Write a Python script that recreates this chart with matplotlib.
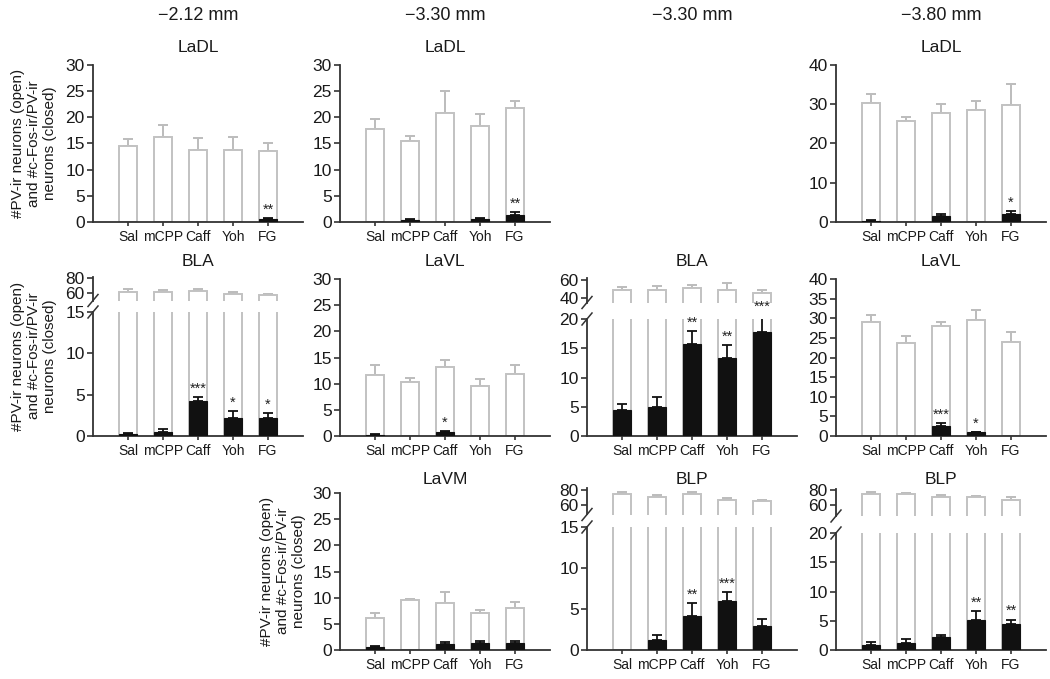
import numpy as np
import matplotlib.pyplot as plt
from matplotlib.lines import Line2D

plt.rcParams['font.family'] = ['Liberation Sans', 'DejaVu Sans']

# Groups on the x axis
groups = ["Sal", "mCPP", "Caff", "Yoh", "FG"]
headers = ["\u22122.12 mm", "\u22123.30 mm", "\u22123.30 mm", "\u22123.80 mm"]

# LaDL, -2.12 mm
ladl_212_open = [14.6, 16.3, 13.8, 13.8, 13.6]
ladl_212_open_err = [1.3, 2.2, 2.2, 2.4, 1.4]
ladl_212_closed = [0, 0, 0, 0, 0.5]
ladl_212_closed_err = [0, 0, 0, 0, 0.2]
ladl_212_stars = ["", "", "", "", "**"]

# LaDL, -3.30 mm
ladl_330_open = [17.7, 15.5, 20.8, 18.3, 21.8]
ladl_330_open_err = [2.0, 1.0, 4.2, 2.3, 1.4]
ladl_330_closed = [0, 0.4, 0, 0.6, 1.3]
ladl_330_closed_err = [0, 0.2, 0, 0.2, 0.6]
ladl_330_stars = ["", "", "", "", "**"]

# LaDL, -3.80 mm
ladl_380_open = [30.3, 25.7, 27.7, 28.5, 29.7]
ladl_380_open_err = [2.2, 1.1, 2.4, 2.4, 5.5]
ladl_380_closed = [0.3, 0, 1.5, 0, 2.0]
ladl_380_closed_err = [0.2, 0, 0.6, 0, 0.7]
ladl_380_stars = ["", "", "", "", "*"]

# BLA, -2.12 mm
bla_212_open = [62, 61, 63, 59, 57]
bla_212_open_err = [3, 2.5, 3, 2.5, 2]
bla_212_closed = [0.3, 0.5, 4.2, 2.2, 2.2]
bla_212_closed_err = [0.1, 0.3, 0.5, 0.8, 0.6]
bla_212_stars = ["", "", "***", "*", "*"]

# LaVL, -3.30 mm
lavl_330_open = [11.6, 10.3, 13.1, 9.6, 11.8]
lavl_330_open_err = [2.0, 0.8, 1.5, 1.2, 1.7]
lavl_330_closed = [0.2, 0, 0.8, 0, 0]
lavl_330_closed_err = [0.1, 0, 0.2, 0, 0]
lavl_330_stars = ["", "", "*", "", ""]

# BLA, -3.30 mm
bla_330_open = [49, 49, 51, 49, 45.5]
bla_330_open_err = [3, 4, 3, 7, 3]
bla_330_closed = [4.4, 4.9, 15.7, 13.3, 17.7]
bla_330_closed_err = [1.0, 1.8, 2.2, 2.3, 3.0]
bla_330_stars = ["", "", "**", "**", "***"]

# LaVL, -3.80 mm
lavl_380_open = [29.1, 23.6, 27.9, 29.5, 24.0]
lavl_380_open_err = [1.8, 1.8, 1.2, 2.6, 2.6]
lavl_380_closed = [0, 0, 2.5, 1.0, 0]
lavl_380_closed_err = [0, 0, 0.7, 0.1, 0]
lavl_380_stars = ["", "", "***", "*", ""]

# LaVM, -3.30 mm
lavm_330_open = [6.1, 9.5, 9.0, 7.0, 8.0]
lavm_330_open_err = [1.0, 0.3, 2.0, 0.7, 1.1]
lavm_330_closed = [0.5, 0, 1.2, 1.3, 1.3]
lavm_330_closed_err = [0.2, 0, 0.4, 0.5, 0.5]
lavm_330_stars = ["", "", "", "", ""]

# BLP, -3.30 mm
blp_330_open = [74, 71, 74, 67, 65]
blp_330_open_err = [3, 2.5, 3, 2, 1.5]
blp_330_closed = [0, 1.2, 4.2, 6.0, 2.9]
blp_330_closed_err = [0, 0.6, 1.5, 1.1, 0.9]
blp_330_stars = ["", "", "**", "***", ""]

# BLP, -3.80 mm
blp_380_open = [75, 74, 71, 70, 67]
blp_380_open_err = [2, 2, 2.5, 2.5, 3]
blp_380_closed = [0.9, 1.2, 2.3, 5.2, 4.5]
blp_380_closed_err = [0.4, 0.7, 0.3, 1.4, 0.7]
blp_380_stars = ["", "", "", "**", "**"]

ylabel = "#PV-ir neurons (open)\nand #c-Fos-ir/PV-ir\nneurons (closed)"

W, H = 1050, 679
fig = plt.figure(figsize=(W / 100, H / 100), dpi=100)

AXC = "#333333"
OPEN_EDGE = "#c2c2c2"
CLOSED = "#111111"
col_left = [93, 340, 587, 836]
col_w = 210


def rect(l, t, r, b):
    return [l / W, 1 - b / H, (r - l) / W, (b - t) / H]


def style(ax, bottom=True):
    ax.spines["top"].set_visible(False)
    ax.spines["right"].set_visible(False)
    ax.spines["left"].set_color(AXC)
    ax.spines["left"].set_linewidth(1.3)
    ax.tick_params(axis="y", labelsize=12.5, length=4, width=1.2, color=AXC,
                   pad=2, labelcolor="#1a1a1a")
    ax.set_xlim(-1, 5)
    if bottom:
        ax.spines["bottom"].set_color(AXC)
        ax.spines["bottom"].set_linewidth(1.3)
        ax.set_xticks(range(5))
        ax.set_xticklabels(groups)
        ax.tick_params(axis="x", labelsize=10, length=3, width=1.2, color=AXC,
                       pad=3, labelcolor="#1a1a1a")
    else:
        ax.spines["bottom"].set_visible(False)
        ax.set_xticks([])
    ax.patch.set_alpha(0)


def bars(ax, open_v, open_e, closed_v, closed_e, stars):
    x = np.arange(5)
    ax.bar(x, open_v, width=0.52, color="white", edgecolor=OPEN_EDGE,
           linewidth=1.4, zorder=2)
    ax.errorbar(x, open_v, yerr=[np.zeros(5), open_e], fmt="none",
                ecolor="#bcbcbc", elinewidth=1.4, capsize=3.5, capthick=1.4,
                zorder=1)
    if closed_v is None:
        return
    cv = np.array(closed_v, dtype=float)
    ce = np.array(closed_e, dtype=float)
    ax.bar(x, cv, width=0.52, color=CLOSED, edgecolor=CLOSED, linewidth=0.8,
           zorder=3)
    m = ce > 0
    ax.errorbar(x[m], cv[m], yerr=[np.zeros(m.sum()), ce[m]], fmt="none",
                ecolor=CLOSED, elinewidth=1.3, capsize=3.5, capthick=1.3,
                zorder=3)
    for xi, s, v, e in zip(x, stars, cv, ce):
        if s:
            ax.annotate(s, (xi, v + e), xytext=(0, 1), textcoords="offset points",
                        ha="center", va="bottom", fontsize=10.5, color="#222222",
                        annotation_clip=False, zorder=5)


def slash(x, y):
    fig.add_artist(Line2D([(x - 5) / W, (x + 5) / W], [1 - (y + 6) / H, 1 - (y - 6) / H],
                          transform=fig.transFigure, color=AXC, lw=1.1))


def simple_panel(col, top, bottom, ymax, step, data):
    l = col_left[col]
    ax = fig.add_axes(rect(l, top, l + col_w, bottom))
    style(ax)
    bars(ax, *data)
    ax.set_ylim(0, ymax)
    ax.set_yticks(np.arange(0, ymax + 0.1, step))
    return ax


def broken_panel(col, up_top, up_bot, up_lim, up_ticks, lo_top, lo_bot, lo_max, lo_step, data):
    l = col_left[col]
    axu = fig.add_axes(rect(l, up_top, l + col_w, up_bot))
    style(axu, bottom=False)
    bars(axu, data[0], data[1], None, None, None)
    axu.set_ylim(*up_lim)
    axu.set_yticks(up_ticks)
    axl = fig.add_axes(rect(l, lo_top, l + col_w, lo_bot))
    style(axl)
    bars(axl, *data)
    axl.set_ylim(0, lo_max)
    axl.set_yticks(np.arange(0, lo_max + 0.1, lo_step))
    slash(l, up_bot)
    slash(l, lo_top)
    return axu, axl


# Row 1: LaDL
simple_panel(0, 65, 222, 30, 5, (ladl_212_open, ladl_212_open_err, ladl_212_closed,
                                 ladl_212_closed_err, ladl_212_stars))
simple_panel(1, 65, 222, 30, 5, (ladl_330_open, ladl_330_open_err, ladl_330_closed,
                                 ladl_330_closed_err, ladl_330_stars))
simple_panel(3, 65, 222, 40, 10, (ladl_380_open, ladl_380_open_err, ladl_380_closed,
                                  ladl_380_closed_err, ladl_380_stars))

# Row 2
broken_panel(0, 276.5, 300.5, (50, 82), [60, 80], 312, 436, 15, 5,
             (bla_212_open, bla_212_open_err, bla_212_closed, bla_212_closed_err, bla_212_stars))
simple_panel(1, 279, 436, 30, 5, (lavl_330_open, lavl_330_open_err, lavl_330_closed,
                                  lavl_330_closed_err, lavl_330_stars))
broken_panel(2, 278, 302.5, (35, 62), [40, 60], 319, 436, 20, 5,
             (bla_330_open, bla_330_open_err, bla_330_closed, bla_330_closed_err, bla_330_stars))
simple_panel(3, 279, 436, 40, 5, (lavl_380_open, lavl_380_open_err, lavl_380_closed,
                                  lavl_380_closed_err, lavl_380_stars))

# Row 3
simple_panel(1, 493, 650, 30, 5, (lavm_330_open, lavm_330_open_err, lavm_330_closed,
                                  lavm_330_closed_err, lavm_330_stars))
broken_panel(2, 488.5, 514.5, (47, 82), [60, 80], 527, 650, 15, 5,
             (blp_330_open, blp_330_open_err, blp_330_closed, blp_330_closed_err, blp_330_stars))
broken_panel(3, 488.5, 516, (45, 82), [60, 80], 533, 650, 20, 5,
             (blp_380_open, blp_380_open_err, blp_380_closed, blp_380_closed_err, blp_380_stars))

# Panel titles
titles = [(0, 47, "LaDL"), (1, 47, "LaDL"), (3, 47, "LaDL"),
          (0, 262, "BLA"), (1, 262, "LaVL"), (2, 262, "BLA"), (3, 262, "LaVL"),
          (1, 479, "LaVM"), (2, 479, "BLP"), (3, 479, "BLP")]
for col, y, t in titles:
    fig.text((col_left[col] + col_w / 2) / W, 1 - y / H, t, ha="center", va="center",
             fontsize=12.5, color="#1a1a1a")

# Column headers
for col, h in enumerate(headers):
    fig.text((col_left[col] + col_w / 2) / W, 1 - 15 / H, h, ha="center", va="center",
             fontsize=13, color="#1a1a1a")

# Y labels
for x, y in [(34, 143.5), (34, 356), (283, 571)]:
    fig.text(x / W, 1 - y / H, ylabel, rotation=90, ha="center", va="center",
             multialignment="center", fontsize=11, linespacing=1.15, color="#1a1a1a")

fig.savefig("out.png", dpi=100, facecolor="white")
